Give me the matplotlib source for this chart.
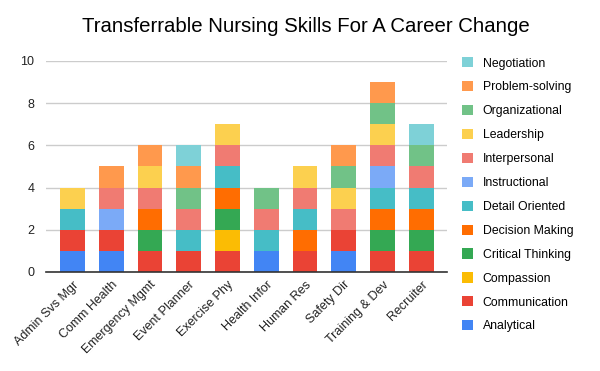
import numpy as np
import matplotlib.pyplot as plt

careers = ["Admin Svs Mgr", "Comm Health", "Emergency Mgmt", "Event Planner",
           "Exercise Phy", "Health Infor", "Human Res", "Safety Dir",
           "Training & Dev", "Recruiter"]

# series in stacking order (bottom to top), one value per career
skills = ["Analytical", "Communication", "Compassion", "Critical Thinking",
          "Decision Making", "Detail Oriented", "Instructional", "Interpersonal",
          "Leadership", "Organizational", "Problem-solving", "Negotiation"]

analytical        = [1, 1, 0, 0, 0, 1, 0, 1, 0, 0]
communication     = [1, 1, 1, 1, 1, 0, 1, 1, 1, 1]
compassion        = [0, 0, 0, 0, 1, 0, 0, 0, 0, 0]
critical_thinking = [0, 0, 1, 0, 1, 0, 0, 0, 1, 1]
decision_making   = [0, 0, 1, 0, 1, 0, 1, 0, 1, 1]
detail_oriented   = [1, 0, 0, 1, 1, 1, 1, 0, 1, 1]
instructional     = [0, 1, 0, 0, 0, 0, 0, 0, 1, 0]
interpersonal     = [0, 1, 1, 1, 1, 1, 1, 1, 1, 1]
leadership        = [1, 0, 1, 0, 1, 0, 1, 1, 1, 0]
organizational    = [0, 0, 0, 1, 0, 1, 0, 1, 1, 1]
problem_solving   = [0, 1, 1, 1, 0, 0, 0, 1, 1, 0]
negotiation       = [0, 0, 0, 1, 0, 0, 0, 0, 0, 1]

series = [analytical, communication, compassion, critical_thinking,
          decision_making, detail_oriented, instructional, interpersonal,
          leadership, organizational, problem_solving, negotiation]

colors = ["#4285F4", "#EA4335", "#FBBC04", "#34A853", "#FF6D01", "#46BDC6",
          "#7BAAF7", "#F07B72", "#FCD04F", "#71C287", "#FF994D", "#7ED1D7"]

plt.rcParams['font.family'] = ['Liberation Sans', 'DejaVu Sans']

fig = plt.figure(figsize=(6, 3.71), dpi=100)
ax = fig.add_axes([0.076, 0.267, 0.669, 0.569])

x = np.arange(len(careers))
bottom = np.zeros(len(careers))
handles = []
for name, vals, c in zip(skills, series, colors):
    b = ax.bar(x, vals, 0.64, bottom=bottom, color=c, label=name, zorder=3)
    handles.append(b)
    bottom += np.array(vals)

ax.set_xlim(-0.69, 9.66)
ax.set_ylim(0, 10)
ax.set_yticks(range(0, 11, 2))
ax.grid(axis='y', color='#cccccc', linewidth=1, zorder=0)
for s in ['top', 'right', 'left']:
    ax.spines[s].set_visible(False)
ax.spines['bottom'].set_color('#333333')
ax.spines['bottom'].set_linewidth(1.2)
ax.spines['bottom'].set_zorder(4)
ax.tick_params(axis='both', length=0, labelsize=9, colors='#222222')
ax.tick_params(axis='y', pad=8)
ax.tick_params(axis='x', pad=5)
ax.set_xticks(x)
ax.set_xticklabels(careers, rotation=45, ha='right', rotation_mode='anchor')

fig.suptitle("Transferrable Nursing Skills For A Career Change", x=0.51, y=0.955,
             fontsize=14.7, color='#000000')

ax.legend(handles[::-1], skills[::-1], loc='upper left', bbox_to_anchor=(1.025, 1.04),
          frameon=False, fontsize=8.8, handlelength=0.9, handleheight=0.9,
          handletextpad=0.8, labelspacing=0.95, borderaxespad=0)

fig.savefig("out.png", dpi=100)
